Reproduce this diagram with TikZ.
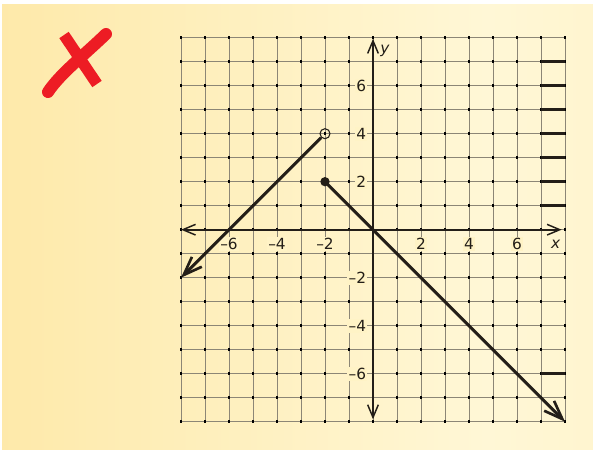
\documentclass[tikz,border=0pt]{standalone}
\usepackage{fontspec}
\setmainfont{DejaVu Sans}
\usetikzlibrary{arrows.meta}
\definecolor{gridc}{HTML}{8C8676}
\definecolor{ink}{HTML}{231E18}
\definecolor{redx}{HTML}{ED1C24}
\definecolor{labbg}{HTML}{FFF3C6}
\definecolor{bgL}{HTML}{FDE18F}
\definecolor{bgM}{HTML}{FFF7D6}
\definecolor{bgR}{HTML}{FEF0BD}
\pgfdeclarehorizontalshading{bgshade}{100bp}{color(0bp)=(bgL); color(66bp)=(bgM); color(100bp)=(bgR)}
\tikzset{
  gridline/.style={gridc, line width=0.7pt},
  axisline/.style={ink, line width=1.5pt, {Straight Barb[length=9.5pt,width=8pt,line width=1.1pt]}-{Straight Barb[length=9.5pt,width=8pt,line width=1.1pt]}},
  graphline/.style={ink, line width=2.2pt, -{Straight Barb[length=14pt,width=10.5pt,line width=2pt]}},
  edgeline/.style={ink, line width=2pt},
  ticklab/.style={font=\fontsize{11.5}{13}\selectfont, text=ink, fill=labbg, inner sep=1pt},
  varlab/.style={font=\fontsize{11.5}{13}\selectfont\itshape, text=ink, inner sep=1pt},
}
\begin{document}
\begin{tikzpicture}[x=0.75pt,y=0.75pt]
\useasboundingbox (0,0) rectangle (593,450);
\shade[shading=bgshade] (2,0) rectangle (593,445);
% red cross
\draw[redx, line width=8.5pt] (64,415) -- (97,366);
\draw[redx, line width=9pt, line cap=round] (106,416) .. controls (82,393) and (60,376) .. (48,358);
\begin{scope}[shift={(373,220.3)},x=18pt,y=18pt]
  \foreach \i in {-8,...,8} {
    \draw[gridline] (\i,-8) -- (\i,8);
    \draw[gridline] (-8,\i) -- (8,\i);
  }
  \foreach \i in {-8,...,8}
    \foreach \j in {-8,...,8}
      \fill[black] (\i,\j) ++(-1pt,-1pt) rectangle ++(2pt,2pt);
  \foreach \k in {1,...,7,-6}
    \draw[edgeline] (7,\k) -- (8,\k);
  % tick labels
  \foreach \v/\t in {-6/{–6},-4/{–4},-2/{–2},2/2,4/4,6/6}
    \node[ticklab] (xl\v) at (\v,-0.6) {\t};
  \foreach \v/\t in {-6/{–6},-4/{–4},-2/{–2},2/2,4/4,6/6}
    \node[ticklab, anchor=east] (yl\v) at (-0.22,\v) {\t};
  \node[varlab] (xname) at (7.61,-0.6) {x};
  \node[varlab] (yname) at (0.5,7.46) {y};
  % axes
  \coordinate (xa) at (-8,0);
  \coordinate (xb) at (7.86,0);
  \coordinate (ya) at (0,-7.9);
  \coordinate (yb) at (0,7.95);
  \draw[axisline] (xa) -- (xb);
  \draw[axisline] (ya) -- (yb);
  % graph
  \node[circle, draw=ink, line width=0.8pt, inner sep=0pt, minimum size=7.5pt] (open) at (-2,4) {};
  \node[circle, fill=ink, inner sep=0pt, minimum size=7pt] (closed) at (-2,2) {};
  \coordinate (tipA) at (-8,-2);
  \coordinate (tipB) at (8,-8);
  \draw[graphline] (open) -- (tipA);
  \draw[graphline] (closed.center) -- (tipB);
\end{scope}
\end{tikzpicture}
\end{document}
